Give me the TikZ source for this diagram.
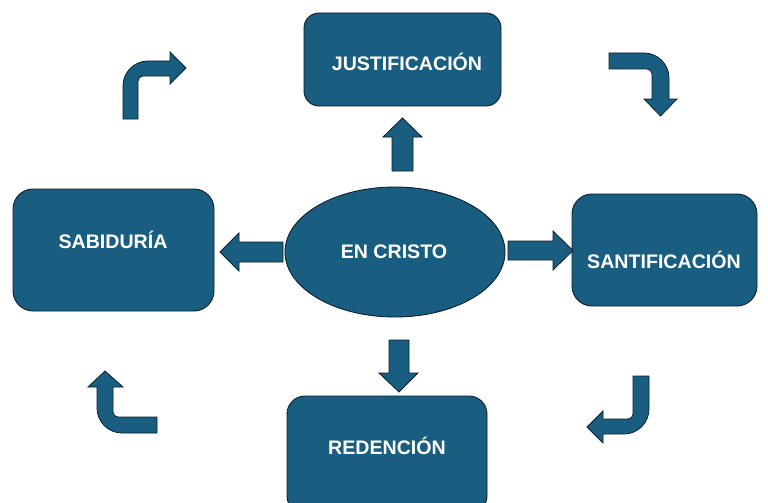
\documentclass[tikz,border=0pt]{standalone}
\usepackage{fontspec}
\setmainfont{Liberation Sans}
\usetikzlibrary{shapes.geometric}
\definecolor{boxblue}{RGB}{25,94,128}
\definecolor{edgeblue}{RGB}{10,32,46}
\tikzset{
  box/.style={draw=edgeblue, fill=boxblue, line width=0.9pt, rounded corners=#1, inner sep=0pt},
  box/.default=18pt,
  lbl/.style={text=white, font=\fontsize{19.6}{22}\selectfont\bfseries, inner sep=0pt},
  blockarrow/.style={draw=edgeblue, fill=boxblue, line width=0.8pt, line join=miter}
}
\begin{document}
\begin{tikzpicture}[x=1pt,y=-1pt]
\useasboundingbox (0,0) rectangle (768,503);
\clip (0,0) rectangle (768,503);
\fill[white] (0,0) rectangle (768,503);

% boxes
\node[box=15pt, minimum width=197pt, minimum height=93pt] (just) at (402.5,59.5) {};
\node[lbl] (justl) at (407,62) {JUSTIFICACIÓN};

\node[box=20pt, minimum width=201pt, minimum height=122pt] (sab) at (113.5,250) {};
\node[lbl] (sabl) at (113,240) {SABIDURÍA};

\node[box=20pt, minimum width=185pt, minimum height=112pt] (sant) at (664.5,250) {};
\node[lbl] (santl) at (664,260) {SANTIFICACIÓN};

\node[box=18pt, minimum width=200pt, minimum height=118pt] (red) at (387,455) {};
\node[lbl] (redl) at (387,446) {REDENCIÓN};

\node[ellipse, draw=edgeblue, fill=boxblue, line width=0.9pt, minimum width=220pt, minimum height=130pt, inner sep=0pt] (cristo) at (395,252) {};
\node[lbl] (cristol) at (394,252) {EN CRISTO};

% straight block arrows
% up
\draw[blockarrow] (392,171) -- (392,137) -- (383,137) -- (402.5,118) -- (422,137) -- (413,137) -- (413,171) -- cycle;
% left
\draw[blockarrow] (283,242) -- (239,242) -- (239,233) -- (220,252) -- (239,271) -- (239,262) -- (283,262) -- cycle;
% right
\draw[blockarrow] (508,241) -- (553,241) -- (553,231) -- (573,250.5) -- (553,270) -- (553,260) -- (508,260) -- cycle;
% down
\draw[blockarrow] (389,340) -- (409,340) -- (409,373) -- (418,373) -- (399,392) -- (379,373) -- (389,373) -- cycle;

% bent arrows
% top-left
\draw[blockarrow] (123,119) -- (123,86) .. controls (123,72.2) and (134.2,61) .. (148,61) -- (170,61) -- (170,52) -- (186,68) -- (170,84) -- (170,76) -- (143,76) .. controls (140.2,76) and (138,78.2) .. (138,81) -- (138,119) -- cycle;
% top-right
\draw[blockarrow] (609,53) -- (644,53) .. controls (657.8,53) and (669,64.2) .. (669,78) -- (669,99) -- (677,99) -- (660.5,116) -- (644,99) -- (652,99) -- (652,74) .. controls (652,71.2) and (649.8,69) .. (647,69) -- (609,69) -- cycle;
% bottom-right
\draw[blockarrow] (633,376) -- (649,376) -- (649,409) .. controls (649,422.8) and (637.8,434) .. (624,434) -- (603,434) -- (603,443) -- (587,427) -- (603,411) -- (603,419) -- (628,419) .. controls (630.8,419) and (633,416.8) .. (633,414) -- cycle;
% bottom-left
\draw[blockarrow] (105,371) -- (123,387) -- (113,387) -- (113,412) .. controls (113,414.8) and (115.2,417) .. (118,417) -- (157,417) -- (157,433) -- (122,433) .. controls (108.2,433) and (97,421.8) .. (97,408) -- (97,387) -- (88,387) -- cycle;
\end{tikzpicture}
\end{document}
